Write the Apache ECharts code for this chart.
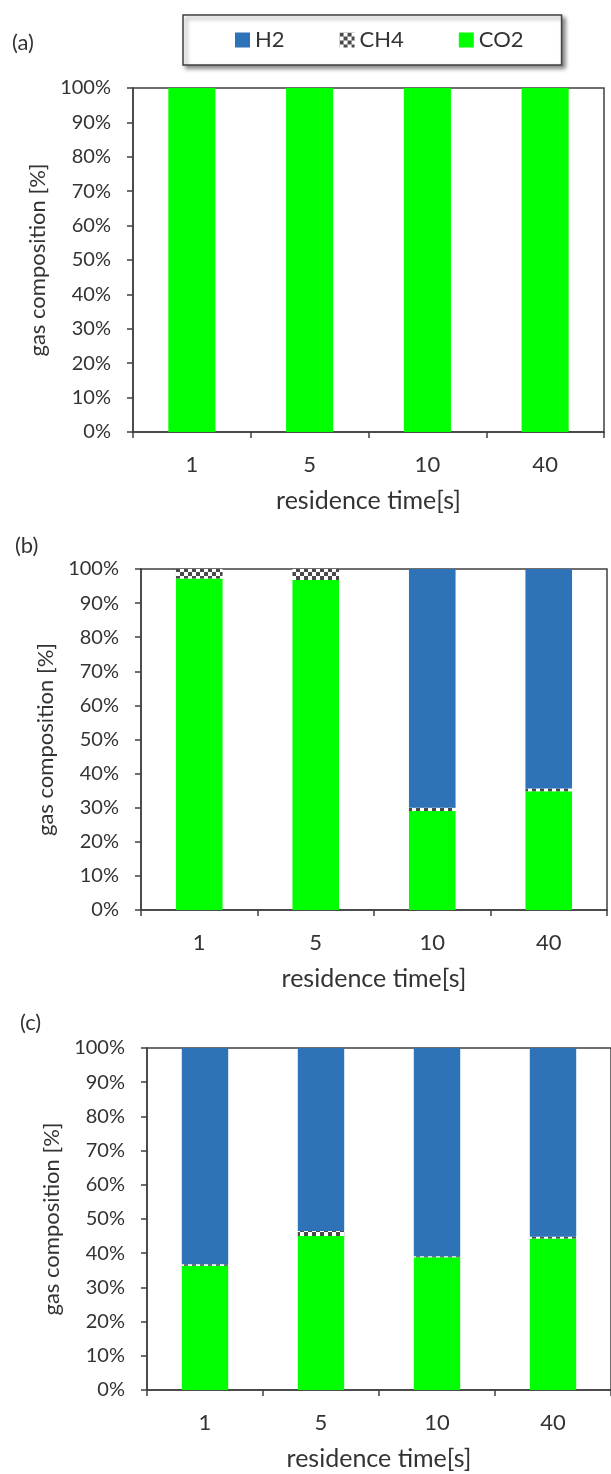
<!DOCTYPE html>
<html><head><meta charset="utf-8">
<script src="https://cdn.jsdelivr.net/npm/echarts@6/dist/echarts.min.js"></script>
<style>html,body{margin:0;padding:0;background:#fff}#c{width:611px;height:1474px}</style>
</head><body><div id="c"></div>
<script>
// ---- data ----
const categories = ['1', '5', '10', '40'];
const seriesNames = ['H2', 'CH4', 'CO2'];
const panelLabels = ['(a)', '(b)', '(c)'];
const xTitle = 'residence time[s]';
const yTitle = 'gas composition [%]';
// panel (a)
const aCO2 = [100, 100, 100, 100];
const aCH4 = [0, 0, 0, 0];
const aH2  = [0, 0, 0, 0];
// panel (b)
const bCO2 = [97.2, 96.8, 29.0, 34.8];
const bCH4 = [2.8, 3.2, 1.0, 0.8];
const bH2  = [0, 0, 70.0, 64.4];
// panel (c)
const cCO2 = [36.3, 45.0, 38.8, 44.3];
const cCH4 = [0.5, 1.5, 0.3, 0.5];
const cH2  = [63.2, 53.5, 60.9, 55.2];

// ---- styles ----
const FONT = 'Lato';
const TXT = '#333';
const H2C = '#2E72B8';
const CO2C = '#00FF00';
function makePattern() {
  const cv = document.createElement('canvas');
  cv.width = 8; cv.height = 8;
  const g = cv.getContext('2d');
  g.fillStyle = '#ffffff'; g.fillRect(0, 0, 8, 8);
  g.fillStyle = '#4a4a4a';
  g.fillRect(0, 0, 4, 4); g.fillRect(4, 4, 4, 4);
  return cv;
}
const CH4C = { image: makePattern(), repeat: 'repeat' };

const panels = [
  { data: [aCO2, aCH4, aH2], left: 133, top: 88, width: 471, height: 344, yGap: 58, label: [12, 32] },
  { data: [bCO2, bCH4, bH2], left: 141, top: 569, width: 466, height: 341, yGap: 57, label: [15, 535] },
  { data: [cCO2, cCH4, cH2], left: 147, top: 1048, width: 470, height: 342, yGap: 80, label: [20, 1012] }
];

const grids = [], xAxes = [], yAxes = [], series = [], titles = [];
panels.forEach((p, i) => {
  grids.push({ left: p.left, top: p.top, width: p.width, height: p.height, show: true,
    borderColor: '#404040', borderWidth: 1.5, backgroundColor: 'transparent', containLabel: false });
  xAxes.push({ type: 'category', gridIndex: i, data: categories,
    axisLine: { lineStyle: { color: '#404040', width: 1.5 } },
    axisTick: { show: true, length: 6, inside: false, alignWithLabel: false, lineStyle: { color: '#404040', width: 1.5 } },
    axisLabel: { color: TXT, fontFamily: FONT, fontSize: 22, margin: 22 },
    name: xTitle, nameLocation: 'middle', nameGap: 56,
    nameTextStyle: { color: TXT, fontFamily: FONT, fontSize: 25 } });
  yAxes.push({ type: 'value', gridIndex: i, min: 0, max: 100, interval: 10,
    axisLine: { show: true, lineStyle: { color: '#404040', width: 1.5 } },
    axisTick: { show: true, length: 6, lineStyle: { color: '#404040', width: 1.5 } },
    splitLine: { show: false },
    axisLabel: { color: TXT, fontFamily: FONT, fontSize: 20, margin: 22, formatter: '{value}%' },
    name: yTitle, nameLocation: 'middle', nameRotate: 90, nameGap: p.yGap,
    nameTextStyle: { color: TXT, fontFamily: FONT, fontSize: 22 } });
  const [co2, ch4, h2] = p.data;
  const common = { type: 'bar', xAxisIndex: i, yAxisIndex: i, stack: 'g' + i, barWidth: '40%' };
  series.push(Object.assign({ name: 'CO2', data: co2, itemStyle: { color: CO2C } }, common));
  series.push(Object.assign({ name: 'CH4', data: ch4, itemStyle: { color: CH4C } }, common));
  series.push(Object.assign({ name: 'H2', data: h2, itemStyle: { color: H2C } }, common));
  titles.push({ text: panelLabels[i], left: p.label[0], top: p.label[1],
    textStyle: { color: TXT, fontFamily: FONT, fontSize: 22, fontWeight: 'normal' }, padding: 0 });
});

const chart = echarts.init(document.getElementById('c'), null, { renderer: 'canvas' });
chart.setOption({
  animation: false,
  backgroundColor: '#fff',
  title: titles,
  legend: {
    data: seriesNames, left: 183, top: 15, orient: 'horizontal',
    padding: [14, 38, 14, 52], itemGap: 55, itemWidth: 15, itemHeight: 15, icon: 'rect',
    backgroundColor: '#fff', borderColor: '#404040', borderWidth: 1.5,
    shadowColor: 'rgba(0,0,0,0.45)', shadowBlur: 4, shadowOffsetX: 3, shadowOffsetY: 3,
    textStyle: { color: TXT, fontFamily: FONT, fontSize: 22 }
  },
  grid: grids, xAxis: xAxes, yAxis: yAxes, series: series
});
</script></body></html>
